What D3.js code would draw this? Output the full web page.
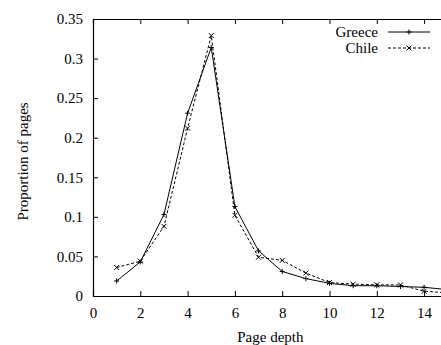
<!DOCTYPE html>
<html>
<head>
<meta charset="utf-8">
<script src="https://cdn.jsdelivr.net/npm/d3@7"></script>
<style>
  body { margin: 0; background: #fff; }
  svg { display: block; font-family: "Liberation Serif", "DejaVu Serif", serif; }
</style>
</head>
<body>
<div class="chart"></div>
<script>
// page depth distribution

const depths = [1, 2, 3, 4, 5, 6, 7, 8, 9, 10, 11, 12, 13, 14, 15];
const greece = [0.019, 0.043, 0.103, 0.231, 0.314, 0.113, 0.057, 0.031, 0.022, 0.016, 0.013, 0.013, 0.012, 0.011, 0.008];
const chile  = [0.036, 0.044, 0.088, 0.212, 0.329, 0.102, 0.049, 0.045, 0.029, 0.017, 0.015, 0.014, 0.014, 0.006, 0.004];
const xTicks = [0, 2, 4, 6, 8, 10, 12, 14];
const yTicks = [0, 0.05, 0.1, 0.15, 0.2, 0.25, 0.3, 0.35];

const W = 441, H = 345;
const margin = {top: 19, left: 93, bottom: 49};
const plotW = 16 * 23.65;
const plotH = H - margin.top - margin.bottom;
const fs = 15;

const svg = d3.select('.chart')
    .append('svg')
    .attr('width', W)
    .attr('height', H);

const x = d3.scaleLinear().domain([0, 16]).range([margin.left, margin.left + plotW]);
const y = d3.scaleLinear().domain([0, 0.35]).range([margin.top + plotH, margin.top]);

// axes (ticks inward like gnuplot)
const xAxis = d3.axisBottom(x).tickValues(xTicks).tickSize(-5).tickPadding(11).tickFormat(d3.format('d'));
const yAxis = d3.axisLeft(y).tickValues(yTicks).tickSize(-5).tickPadding(10).tickFormat(d => d === 0 ? '0' : String(d));

const gx = svg.append('g')
    .attr('transform', `translate(0,${y(0)})`)
    .call(xAxis);
const gy = svg.append('g')
    .attr('transform', `translate(${x(0)},0)`)
    .call(yAxis);

// mirrored ticks along the top
svg.append('g')
    .attr('transform', `translate(0,${y(0.35)})`)
    .call(d3.axisTop(x).tickValues(xTicks).tickSize(-5).tickFormat(''));

[gx, gy].forEach(g => {
    g.selectAll('.tick line').attr('stroke', '#000');
    g.selectAll('.tick text').attr('font-size', fs).attr('fill', '#000')
        .attr('font-family', '"Liberation Serif", serif');
});
svg.selectAll('.domain').attr('stroke', '#000').attr('stroke-width', 1.2);

// axis labels
svg.append('text')
    .attr('x', x(7.5))
    .attr('y', 342)
    .attr('text-anchor', 'middle')
    .attr('font-size', fs)
    .text('Page depth');

svg.append('text')
    .attr('transform', `translate(28,${y(0.17)}) rotate(-90)`)
    .attr('text-anchor', 'middle')
    .attr('font-size', fs)
    .text('Proportion of pages');

// lines
const series = [
    {name: 'Greece', values: greece, dash: null, marker: 'plus'},
    {name: 'Chile', values: chile, dash: '3,2', marker: 'cross'}
];

const line = d3.line().x(d => x(d[0])).y(d => y(d[1]));

function marker(g, type, cx, cy) {
    const s = 2.5;
    const p = type === 'plus'
        ? `M${cx - s},${cy}L${cx + s},${cy}M${cx},${cy - s}L${cx},${cy + s}`
        : `M${cx - s},${cy - s}L${cx + s},${cy + s}M${cx - s},${cy + s}L${cx + s},${cy - s}`;
    g.append('path').attr('d', p).attr('stroke', '#000').attr('stroke-width', 1);
}

series.forEach((s, i) => {
    const pts = depths.map((d, j) => [d, s.values[j]]);
    const g = svg.append('g');
    g.append('path')
        .attr('d', line(pts))
        .attr('fill', 'none')
        .attr('stroke', '#000')
        .attr('stroke-width', 1)
        .attr('stroke-dasharray', s.dash);
    pts.forEach(p => marker(g, s.marker, x(p[0]), y(p[1])));

    // legend
    const ly = 32 + i * 16;
    svg.append('text')
        .attr('x', 378)
        .attr('y', ly + 5)
        .attr('text-anchor', 'end')
        .attr('font-size', fs)
        .text(s.name);
    svg.append('line')
        .attr('x1', 388).attr('x2', 430)
        .attr('y1', ly).attr('y2', ly)
        .attr('stroke', '#000')
        .attr('stroke-dasharray', s.dash);
    marker(svg, s.marker, 409, ly);
});
</script>
</body>
</html>
